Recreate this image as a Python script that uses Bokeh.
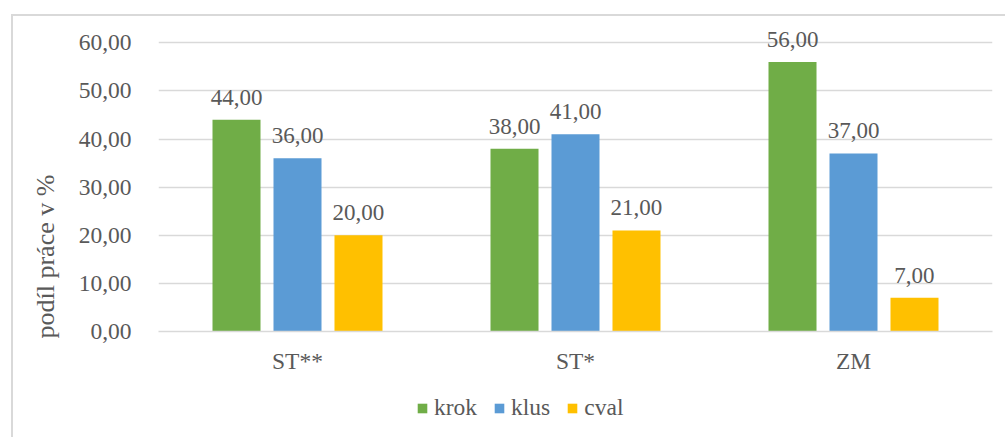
from bokeh.plotting import figure
from bokeh.layouts import column
from bokeh.models import (FactorRange, Range1d, FixedTicker, ColumnDataSource,
                          LabelSet, Legend, LegendItem, Title)
from bokeh.transform import dodge
from bokeh.embed import file_html
from bokeh.resources import INLINE

categories = ["ST**", "ST*", "ZM"]
series_names = ["krok", "klus", "cval"]
krok = [44.0, 38.0, 56.0]
klus = [36.0, 41.0, 37.0]
cval = [20.0, 21.0, 7.0]
y_ticks = [0, 10, 20, 30, 40, 50, 60]
y_tick_labels = ["0,00", "10,00", "20,00", "30,00", "40,00", "50,00", "60,00"]
y_label = "podíl práce v %"
colors = ["#70AD47", "#5B9BD5", "#FFC000"]

FONT = "Liberation Serif"
TXT = "#595959"
FS = "23.5px"
BORDER = "2px solid #d9d9d9"

p = figure(x_range=FactorRange(*categories), y_range=Range1d(0, 64.64),
           width=994, height=380, output_backend="svg", toolbar_location=None,
           min_border_left=145, min_border_right=15, min_border_top=4,
           min_border_bottom=65)
p.styles = {"border-top": BORDER, "border-left": BORDER}
p.outline_line_color = None
p.background_fill_color = "white"
p.border_fill_color = "white"

p.xgrid.grid_line_color = None
p.ygrid.grid_line_color = "#d9d9d9"
p.ygrid.grid_line_width = 1.3

p.yaxis.ticker = FixedTicker(ticks=y_ticks)
p.yaxis.major_label_overrides = {t: l for t, l in zip(y_ticks, y_tick_labels)}
p.yaxis.axis_line_color = None
p.yaxis.major_tick_line_color = None
p.yaxis.minor_tick_line_color = None
p.yaxis.major_label_standoff = 21

p.xaxis.axis_line_color = "#d9d9d9"
p.xaxis.axis_line_width = 1.3
p.xaxis.major_tick_line_color = None
p.xaxis.minor_tick_line_color = None
p.xaxis.major_label_standoff = 10

for ax in (p.xaxis, p.yaxis):
    ax.major_label_text_font = FONT
    ax.major_label_text_font_size = FS
    ax.major_label_text_color = TXT

ytitle = Title(text=y_label, align="left", offset=-7, vertical_align="middle",
               standoff=30, text_font=FONT, text_font_size="26px",
               text_font_style="normal", text_color=TXT)
p.add_layout(ytitle, "left")

offsets = [-0.2194, 0.0, 0.2194]
values = [krok, klus, cval]
sources = []
for name, vals, col, off in zip(series_names, values, colors, offsets):
    src = ColumnDataSource(dict(cat=categories, val=vals,
                                txt=[f"{v:.2f}".replace(".", ",") for v in vals]))
    sources.append(src)
    p.vbar(x=dodge("cat", off, range=p.x_range), top="val", width=0.1727,
           source=src, fill_color=col, line_color=None)
    lbl = LabelSet(x=dodge("cat", off, range=p.x_range), y="val", text="txt",
                   source=src, text_align="center", text_baseline="alphabetic",
                   y_offset=15, text_font=FONT, text_font_size="23px", text_color=TXT)
    p.add_layout(lbl)

# legend strip below the chart (its key renderers have zero width, so only the keys show)
leg = figure(x_range=FactorRange(*categories), y_range=Range1d(-100, -57),
             width=994, height=43, output_backend="svg", toolbar_location=None,
             x_axis_type=None, y_axis_type=None, min_border_left=0,
             min_border_right=0, min_border_top=0, min_border_bottom=0)
leg.styles = {"border-left": BORDER}
leg.outline_line_color = None
leg.grid.visible = False
leg.background_fill_color = "white"
leg.border_fill_color = "white"
items = []
for name, col, src in zip(series_names, colors, sources):
    key = leg.vbar(x="cat", top="val", width=0.0, source=src,
                   fill_color=col, line_color=None)
    items.append(LegendItem(label=name, renderers=[key]))
legend = Legend(items=items, orientation="horizontal", location=(258, 16),
                glyph_width=12, glyph_height=12, label_standoff=6, spacing=16,
                padding=0, margin=0, label_text_font=FONT,
                label_text_font_size=FS, label_text_color=TXT,
                border_line_color=None, background_fill_alpha=0)
leg.add_layout(legend, "center")

layout = column(p, leg, spacing=0, margin=(14, 0, 0, 11))

open("out.html", "w").write(file_html(layout, INLINE))
